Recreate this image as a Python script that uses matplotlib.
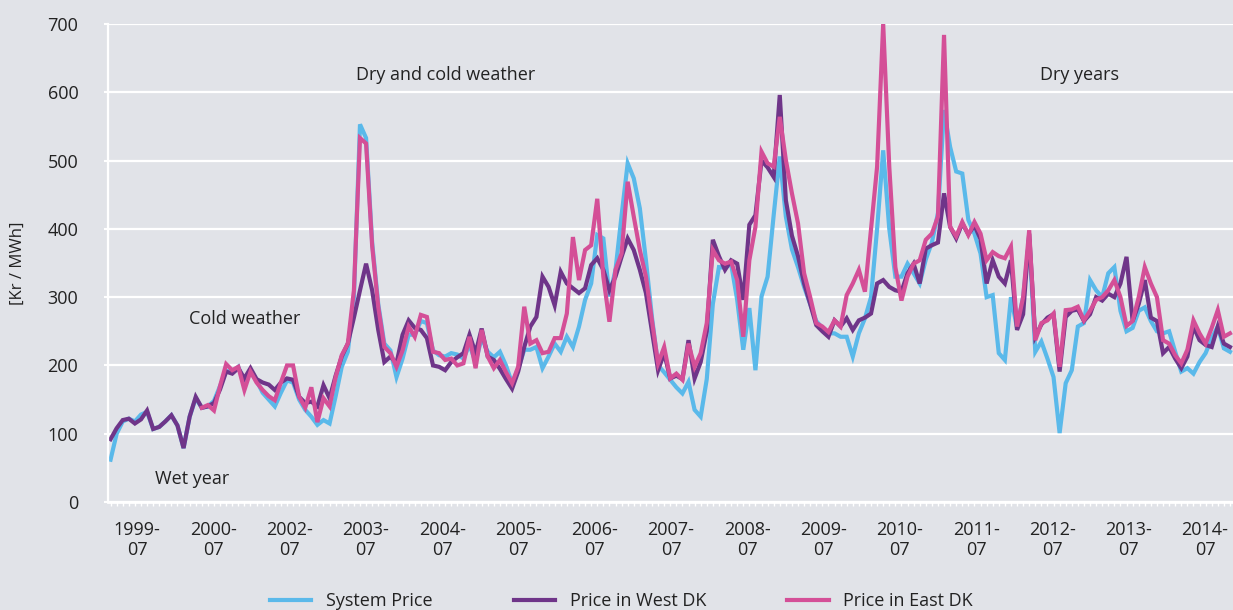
import numpy as np
import matplotlib
matplotlib.use("Agg")
import matplotlib.pyplot as plt
from matplotlib.ticker import MultipleLocator

# monthly prices, 1999-07 .. 2014-11 (kr/MWh)
system_price = [
    62, 100, 118, 122, 118, 128, 132, 107, 110, 118, 127, 112, 79, 125, 152, 138, 140, 148, 170, 192,
    190, 198, 175, 190, 178, 160, 150, 140, 160, 178, 175, 150, 135, 125, 113, 120, 115, 155, 198, 220,
    300, 553, 533, 380, 290, 232, 222, 183, 210, 245, 245, 265, 262, 222, 215, 213, 218, 216, 210, 230,
    205, 240, 220, 212, 220, 200, 174, 195, 223, 223, 227, 196, 213, 232, 220, 242, 227, 257, 296, 320,
    391, 386, 301, 340, 420, 496, 474, 430, 354, 270, 200, 190, 179, 168, 159, 176, 135, 125, 180, 290,
    344, 343, 349, 296, 223, 284, 193, 301, 330, 420, 506, 418, 370, 344, 315, 290, 265, 255, 247, 247,
    242, 242, 213, 247, 269, 300, 400, 515, 400, 330, 330, 349, 335, 320, 355, 380, 423, 574, 520, 484,
    481, 413, 393, 364, 300, 303, 218, 208, 300, 255, 300, 385, 220, 235, 210, 183, 101, 174, 193, 257,
    262, 325, 310, 300, 335, 344, 280, 250, 255, 280, 285, 265, 250, 247, 250, 220, 191, 196, 188, 205,
    218, 240, 257, 225, 220,
]
west_dk = [
    92, 108, 120, 122, 115, 121, 134, 107, 110, 118, 127, 112, 79, 125, 154, 138, 140, 145, 165, 191,
    188, 196, 181, 196, 180, 175, 172, 164, 175, 181, 179, 154, 145, 147, 140, 171, 152, 185, 213, 232,
    270, 310, 349, 310, 252, 205, 213, 203, 245, 266, 255, 252, 240, 200, 198, 193, 205, 212, 218, 245,
    218, 254, 213, 208, 195, 180, 166, 191, 227, 257, 271, 330, 315, 288, 337, 320, 313, 306, 313, 347,
    357, 340, 310, 330, 359, 386, 369, 340, 306, 250, 193, 218, 181, 185, 180, 237, 181, 205, 250, 384,
    360, 340, 354, 349, 296, 406, 420, 500, 490, 476, 596, 442, 390, 360, 320, 290, 259, 250, 242, 266,
    257, 269, 252, 266, 270, 276, 320, 325, 315, 310, 308, 335, 349, 320, 371, 376, 380, 452, 403, 386,
    408, 392, 405, 385, 320, 354, 330, 320, 354, 252, 275, 393, 242, 260, 270, 275, 191, 271, 280, 282,
    265, 275, 300, 295, 305, 300, 320, 359, 265, 290, 325, 270, 265, 218, 227, 210, 196, 213, 257, 237,
    230, 227, 257, 232, 227,
]
east_dk = [np.nan] * 15 + [
    138, 142, 134, 170, 202, 193, 198, 164, 191, 175, 164, 155, 149, 175, 200, 200, 154, 138, 168, 117,
    152, 140, 183, 215, 232, 310, 533, 525, 375, 286, 227, 218, 198, 222, 257, 242, 274, 271, 220, 218,
    208, 210, 200, 203, 242, 196, 252, 213, 196, 208, 190, 174, 198, 286, 232, 237, 218, 220, 240, 240,
    276, 388, 325, 369, 376, 444, 330, 264, 340, 364, 469, 418, 369, 330, 265, 203, 227, 181, 188, 179,
    232, 198, 218, 262, 369, 354, 349, 352, 325, 242, 354, 403, 513, 496, 491, 564, 501, 452, 408, 335,
    300, 262, 257, 249, 266, 257, 303, 320, 340, 308, 400, 491, 700, 491, 344, 295, 330, 349, 354, 384,
    393, 418, 684, 403, 389, 410, 391, 410, 393, 354, 366, 360, 357, 374, 257, 300, 398, 237, 262, 266,
    276, 198, 281, 282, 286, 266, 280, 296, 300, 310, 325, 300, 258, 265, 300, 344, 320, 300, 237, 232,
    215, 203, 223, 266, 247, 232, 255, 281, 242, 247,
]

tick_labels = ["1999-\n07", "2000-\n07", "2002-\n07", "2003-\n07", "2004-\n07", "2005-\n07",
               "2006-\n07", "2007-\n07", "2008-\n07", "2009-\n07", "2010-\n07", "2011-\n07",
               "2012-\n07", "2013-\n07", "2014-\n07"]

series = [
    ("System Price", system_price, "#5ab9ea"),
    ("Price in West DK", west_dk, "#6f3589"),
    ("Price in East DK", east_dk, "#d44f97"),
]

bg = "#e1e3e8"
txt = "#222222"
plt.rcParams["font.family"] = ["Open Sans", "DejaVu Sans"]

fig = plt.figure(figsize=(12.33, 6.10), dpi=100, facecolor=bg)
ax = fig.add_axes([0.0872, 0.177, 0.9128, 0.7837])
ax.set_facecolor(bg)

months = np.arange(len(system_price))
for name, vals, col in series:
    ax.plot(months, vals, color=col, lw=3.0, label=name, solid_joinstyle="miter")

ax.set_xlim(-0.5, 184.5)
ax.set_ylim(0, 700)
ax.set_yticks(range(0, 701, 100))
ax.yaxis.grid(True, color="white", lw=1.6)
ax.set_axisbelow(True)

for s in ["top", "right"]:
    ax.spines[s].set_visible(False)
ax.spines["left"].set_color("white")
ax.spines["left"].set_linewidth(1.6)
ax.spines["bottom"].set_color("white")
ax.spines["bottom"].set_linewidth(2)

ax.set_xticks(np.linspace(4.35, 179.9, len(tick_labels)))
ax.set_xticklabels(tick_labels, fontsize=13, color=txt, linespacing=1.1)
ax.xaxis.set_minor_locator(MultipleLocator(1))
ax.tick_params(axis="x", which="major", length=0, pad=14)
ax.tick_params(axis="x", which="minor", length=3, width=1, color="white")
ax.tick_params(axis="y", length=3, width=1.5, color="white", pad=18, labelsize=13, labelcolor=txt)

ax.set_ylabel("[Kr / MWh]", fontsize=12, color=txt)
ax.yaxis.set_label_coords(-0.073, 0.5)

ax.text(55.1, 625, "Dry and cold weather", fontsize=13, color=txt, ha="center", va="center")
ax.text(22.1, 268, "Cold weather", fontsize=13, color=txt, ha="center", va="center")
ax.text(13.4, 34, "Wet year", fontsize=13, color=txt, ha="center", va="center")
ax.text(159.2, 625, "Dry years", fontsize=13, color=txt, ha="center", va="center")

fig.legend(loc="center", bbox_to_anchor=(0.504, 0.015), ncol=3, frameon=False,
           fontsize=13, handlelength=2.3, handletextpad=0.8, columnspacing=4.5,
           labelcolor=txt)

fig.savefig("out.png", dpi=100, facecolor=bg)
